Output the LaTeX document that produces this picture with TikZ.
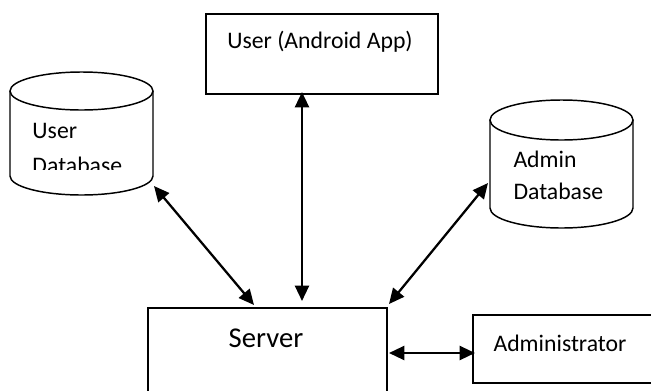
\documentclass[tikz,border=0pt]{standalone}
\usepackage{fontspec}
\setmainfont{Carlito}
\usetikzlibrary{arrows.meta}

\tikzset{every picture/.style={line width=0.75pt}}
\tikzset{
  outline/.style={line width=1.1},
  link/.style={line width=1.7, {Triangle[length=11.5pt,width=10.5pt]}-{Triangle[length=11.5pt,width=10.5pt]}},
  lbl/.style={font=\fontsize{17.8}{21}\selectfont, inner sep=0pt},
  biglbl/.style={font=\fontsize{21.5}{25}\selectfont, inner sep=0pt},
}

\begin{document}
\begin{tikzpicture}[x=0.75pt,y=0.75pt,yscale=-1]
\useasboundingbox (0,0) rectangle (651,390);

% boxes
\draw [outline] (206,14) -- (438,14) -- (438,94) -- (206,94) -- cycle ;
\draw [outline] (148,400) -- (148,308) -- (387,308) -- (387,400) ;
\draw [outline] (660,315) -- (473,315) -- (473,383) -- (660,383) ;

% databases
\draw [outline] (10,91) -- (10,176) arc [start angle=180,end angle=0,x radius=71.5,y radius=19] -- (153,91) ;
\draw [outline] (81.5,91) ellipse [x radius=71.5,y radius=19] ;
\draw [outline] (490,120) -- (490,208) arc [start angle=180,end angle=0,x radius=71.5,y radius=20] -- (633,120) ;
\draw [outline] (561.5,120) ellipse [x radius=71.5,y radius=20] ;

% labels
\node (app) [lbl] at (320,42) {User (Android App)};
\node (server) [biglbl] at (266,338) {Server};
\node (admin) [lbl] at (560,343) {Administrator};
\node (userdb) [lbl, anchor=west] at (32,131) {User};
\begin{scope}
\clip (10,100) rectangle (153,169);
\node (userdbb) [lbl, anchor=west] at (32,165.5) {Database};
\end{scope}
\node (admindb) [lbl, anchor=west] at (513,159.5) {Admin};
\node (admindbb) [lbl, anchor=west] at (513,191.5) {Database};

% end points
\coordinate (appS) at (302,92);
\coordinate (srvA) at (302,301);
\coordinate (udbE) at (154,186);
\coordinate (srvU) at (254,305);
\coordinate (adbW) at (488,183);
\coordinate (srvD) at (389,304);
\coordinate (srvE) at (389,353);
\coordinate (admW) at (475,353);

% links
\draw [link] (appS) -- (srvA) ;
\draw [link] (udbE) -- (srvU) ;
\draw [link] (adbW) -- (srvD) ;
\draw [link] (srvE) -- (admW) ;

\end{tikzpicture}
\end{document}
